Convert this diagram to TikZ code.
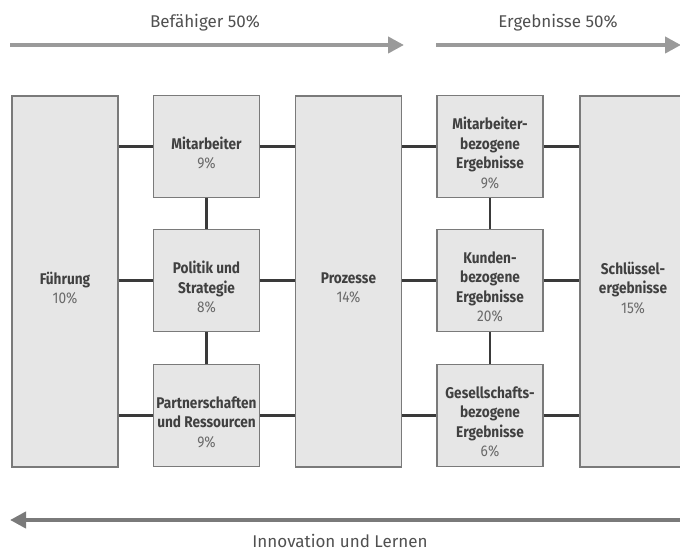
\documentclass[tikz,border=0pt]{standalone}
\usepackage{fontspec}
\setmainfont{Fira Sans}
\newfontfamily\boxfont[FakeStretch=0.88]{Fira Sans}
\usetikzlibrary{arrows.meta}
\definecolor{boxfill}{HTML}{E6E6E6}
\definecolor{boxline}{HTML}{7A7A7A}
\definecolor{conn}{HTML}{3A3A3A}
\definecolor{txt}{HTML}{404040}
\definecolor{pct}{HTML}{6A6A6A}
\definecolor{captxt}{HTML}{505050}
\definecolor{toparrow}{HTML}{9A9A9A}
\definecolor{botarrow}{HTML}{7A7A7A}
\tikzset{
  box/.style={draw=boxline, line width=1.3pt, fill=boxfill, inner sep=0pt,
    minimum width=106pt},
  tallbox/.style={box, minimum height=371pt},
  smallbox/.style={box, minimum height=102pt},
  lbl/.style={text=txt, align=center, font=\boxfont\fontsize{15.5}{19.5}\selectfont, inner sep=0pt},
  link/.style={draw=conn, line width=2.4pt},
  toparr/.style={draw=toparrow, line width=4pt, -{Triangle[length=16pt,width=16pt]}},
  botarr/.style={draw=botarrow, line width=4pt, -{Triangle[length=16pt,width=16pt]}},
  caption/.style={text=captxt, font=\fontsize{17}{19}\selectfont, inner sep=0pt, anchor=base}
}
\newcommand{\pc}[1]{{\color{pct}\fontseries{m}\selectfont #1}}
\begin{document}
\begin{tikzpicture}[x=1pt,y=1pt]
\useasboundingbox (0,0) rectangle (680,552);
% boxes
\node[tallbox] (fue) at (65,270.5) {};
\node[smallbox] (mit) at (206.5,405.5) {};
\node[smallbox] (pol) at (206.5,271.5) {};
\node[smallbox] (par) at (206.5,136.5) {};
\node[tallbox] (pro) at (348.5,270.5) {};
\node[smallbox] (mbe) at (490,405.5) {};
\node[smallbox] (kbe) at (490,271.5) {};
\node[smallbox] (gbe) at (490,136.5) {};
\node[tallbox] (sch) at (633,270.5) {};
% labels
\node[lbl] (tfue) at ([yshift=-6.5pt]fue.center) {\textbf{Führung}\\\pc{10\%}};
\node[lbl] (tmit) at ([yshift=-6.5pt]mit.center) {\textbf{Mitarbeiter}\\\pc{9\%}};
\node[lbl] (tpol) at ([yshift=-6.5pt]pol.center) {\textbf{Politik und}\\\textbf{Strategie}\\\pc{8\%}};
\node[lbl] (tpar) at ([yshift=-6.5pt]par.center) {\textbf{Partnerschaften}\\\textbf{und Ressourcen}\\\pc{9\%}};
\node[lbl] (tpro) at ([yshift=-6.5pt]pro.center) {\textbf{Prozesse}\\\pc{14\%}};
\node[lbl] (tmbe) at ([yshift=-6.5pt]mbe.center) {\textbf{Mitarbeiter-}\\\textbf{bezogene}\\\textbf{Ergebnisse}\\\pc{9\%}};
\node[lbl] (tkbe) at ([yshift=-6.5pt]kbe.center) {\textbf{Kunden-}\\\textbf{bezogene}\\\textbf{Ergebnisse}\\\pc{20\%}};
\node[lbl] (tgbe) at ([yshift=-6.5pt]gbe.center) {\textbf{Gesellschafts-}\\\textbf{bezogene}\\\textbf{Ergebnisse}\\\pc{6\%}};
\node[lbl] (tsch) at ([yshift=-6.5pt]sch.center) {\textbf{Schlüssel-}\\\textbf{ergebnisse}\\\pc{15\%}};
% horizontal links: tall box on the left of a small box
\foreach \t/\s in {fue/mit,fue/pol,fue/par,pro/mbe,pro/kbe,pro/gbe}{
  \draw[link] (\t.east |- \s.west) -- (\s.west);
}
% small box on the left of a tall box
\foreach \s/\t in {mit/pro,pol/pro,par/pro,mbe/sch,kbe/sch,gbe/sch}{
  \draw[link] (\s.east) -- (\t.west |- \s.east);
}
% vertical links
\draw[link] (mit.south) -- (pol.north);
\draw[link] (pol.south) -- (par.north);
\draw[link] (mbe.south) -- (kbe.north);
\draw[link] (kbe.south) -- (gbe.north);
% arrows
\coordinate (a1s) at (10,507);
\coordinate (a1e) at (404,507);
\coordinate (a2s) at (436,507);
\coordinate (a2e) at (681,507);
\coordinate (a3s) at (681,32);
\coordinate (a3e) at (10,32);
\draw[toparr] (a1s) -- (a1e);
\draw[toparr] (a2s) -- (a2e);
\draw[botarr] (a3s) -- (a3e);
\node[caption] (cap1) at (205,524) {Befähiger 50\%};
\node[caption] (cap2) at (558,524) {Ergebnisse 50\%};
\node[caption] (cap3) at (340,4.5) {Innovation und Lernen};
\end{tikzpicture}
\end{document}
